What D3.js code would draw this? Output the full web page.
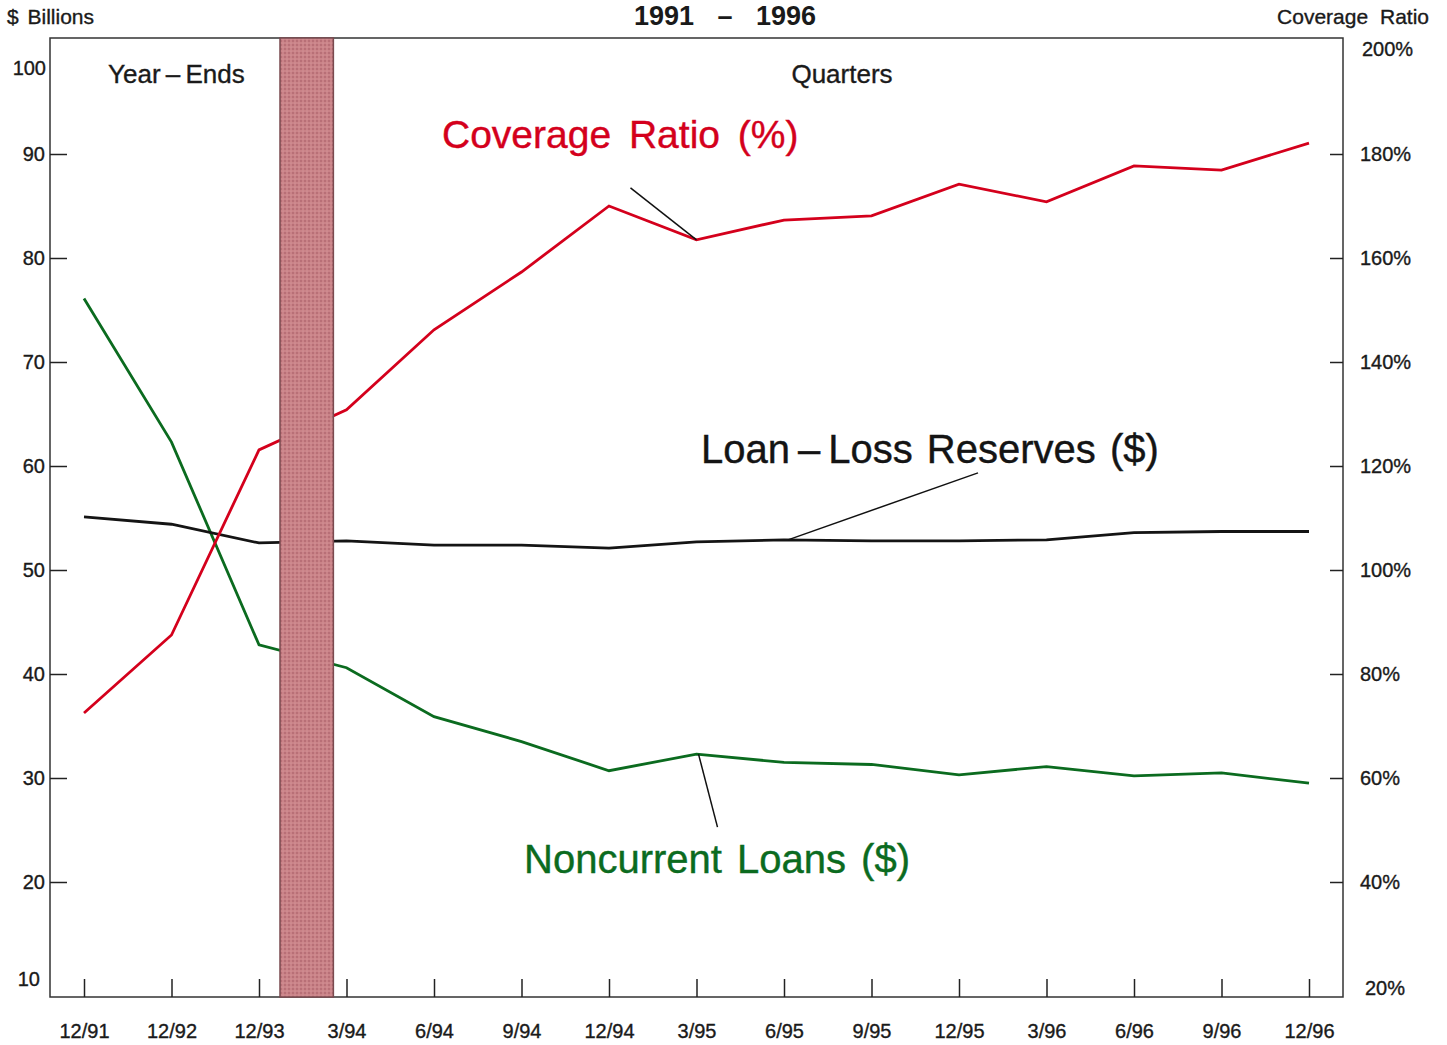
<!DOCTYPE html>
<html>
<head>
    <meta charset="utf-8">
    <style>
        body {
            margin: 0;
            background: #fff;
            font-family: "Liberation Sans", Arial, sans-serif;
        }

        svg {
            display: block;
        }

        .tick text {
            font-size: 20px;
            fill: #1a1a1a;
            stroke: #1a1a1a;
            stroke-width: 0.35;
        }

        .tick line {
            stroke: #222;
            stroke-width: 1.5;
        }

        .domain {
            display: none;
        }

        .label {
            font-size: 40px;
            stroke-width: 0.4;
        }

        .corner, .head {
            font-size: 20px;
            fill: #1a1a1a;
            stroke: #1a1a1a;
            stroke-width: 0.35;
        }
    </style>
</head>

<body>
    <svg width="1447" height="1045"></svg>
</body>

<script src="https://d3js.org/d3.v7.min.js"></script>

<script>
    let periods = ["12/91", "12/92", "12/93", "3/94", "6/94", "9/94", "12/94", "3/95",
        "6/95", "9/95", "12/95", "3/96", "6/96", "9/96", "12/96"]

    // coverage ratio, percent (right axis)
    let coverage = [72.5, 87.5, 123.1, 130.8, 146.2, 157.3, 170.0, 163.5,
        167.3, 168.1, 174.2, 170.8, 177.7, 176.9, 182.1]

    // loan-loss reserves, $ billions (left axis)
    let reserves = [55.1, 54.4, 52.6, 52.8, 52.4, 52.4, 52.1, 52.7,
        52.9, 52.8, 52.8, 52.9, 53.6, 53.7, 53.7]

    // noncurrent loans, $ billions (left axis)
    let noncurrent = [76.1, 62.3, 42.8, 40.6, 35.9, 33.5, 30.7, 32.3,
        31.5, 31.3, 30.3, 31.1, 30.2, 30.5, 29.5]

    let leftTicks = [20, 30, 40, 50, 60, 70, 80, 90]
    let rightTicks = [40, 60, 80, 100, 120, 140, 160, 180]

    // shaded break between year-ends and quarters, in period index units
    let breakBand = [2.24, 2.85]

    let box = { left: 50, right: 1343, top: 38, bottom: 997 }

    let svg = d3.select("svg")

    let x = d3.scalePoint()
        .domain(periods)
        .range([84, 1309])

    let xi = d3.scaleLinear()
        .domain([0, periods.length - 1])
        .range([84, 1309])

    let yLeft = d3.scaleLinear()
        .domain([10, 100])
        .range([986, 50])

    let yRight = d3.scaleLinear()
        .domain([20, 200])
        .range([986, 50])

    // texture for the shaded band
    let defs = svg.append("defs")
    let pat = defs.append("pattern")
        .attr("id", "speckle")
        .attr("width", 4)
        .attr("height", 4)
        .attr("patternUnits", "userSpaceOnUse")
    pat.append("rect").attr("width", 4).attr("height", 4).attr("fill", "#ca8388")
    pat.append("circle").attr("cx", 1).attr("cy", 1).attr("r", 0.9).attr("fill", "#b0666f")
    pat.append("circle").attr("cx", 3).attr("cy", 3).attr("r", 0.6).attr("fill", "#dba2a5")

    // frame
    svg.append("rect")
        .attr("x", box.left)
        .attr("y", box.top)
        .attr("width", box.right - box.left)
        .attr("height", box.bottom - box.top)
        .attr("fill", "none")
        .attr("stroke", "#333")
        .attr("stroke-width", 1.5)

    // axes
    svg.append("g")
        .attr("class", "y left")
        .attr("transform", `translate(${box.left},0)`)
        .call(d3.axisRight(yLeft).tickValues(leftTicks).tickSize(17))
        .call(g => g.selectAll(".tick text").attr("text-anchor", "end").attr("x", -5))

    svg.append("g")
        .attr("class", "y right")
        .attr("transform", `translate(${box.right},0)`)
        .call(d3.axisLeft(yRight).tickValues(rightTicks).tickSize(13)
            .tickFormat(d => d + "%"))
        .call(g => g.selectAll(".tick text").attr("text-anchor", "start").attr("x", 17))

    svg.append("g")
        .attr("class", "x")
        .attr("transform", `translate(0,${box.bottom})`)
        .call(d3.axisTop(x).tickSize(18))
        .call(g => g.selectAll(".tick text").attr("y", 41).attr("dy", 0))

    // untickmarked end labels
    svg.append("text").attr("class", "corner")
        .attr("x", box.left - 4).attr("y", yLeft(100) + 25)
        .attr("text-anchor", "end").text("100")
    svg.append("text").attr("class", "corner")
        .attr("x", box.left - 10).attr("y", yLeft(10))
        .attr("text-anchor", "end").text("10")
    svg.append("text").attr("class", "corner")
        .attr("x", box.right + 19).attr("y", yRight(200) + 6).text("200%")
    svg.append("text").attr("class", "corner")
        .attr("x", box.right + 22).attr("y", yRight(20) + 9).text("20%")

    // lines
    let lineL = d3.line()
        .x((d, i) => x(periods[i]))
        .y(d => yLeft(d))

    let lineR = d3.line()
        .x((d, i) => x(periods[i]))
        .y(d => yRight(d))

    svg.append("path")
        .attr("d", lineL(noncurrent))
        .attr("fill", "none")
        .attr("stroke", "#0b6b1f")
        .attr("stroke-width", 2.8)

    svg.append("path")
        .attr("d", lineL(reserves))
        .attr("fill", "none")
        .attr("stroke", "#141414")
        .attr("stroke-width", 2.8)

    svg.append("path")
        .attr("d", lineR(coverage))
        .attr("fill", "none")
        .attr("stroke", "#d4001c")
        .attr("stroke-width", 2.8)

    // shaded break band over the lines
    svg.append("rect")
        .attr("x", xi(breakBand[0]))
        .attr("y", box.top)
        .attr("width", xi(breakBand[1]) - xi(breakBand[0]))
        .attr("height", box.bottom - box.top)
        .attr("fill", "url(#speckle)")
        .attr("stroke", "#7a4a4f")
        .attr("stroke-width", 1.5)

    // leader lines, anchored on data points
    let leaders = [
        { px: x("3/95"), py: yRight(coverage[7]), dx: -66, dy: -52 },
        { px: x("6/95") + 4, py: yLeft(reserves[8]), dx: 190, dy: -67 },
        { px: x("3/95") + 2, py: yLeft(noncurrent[7]), dx: 19, dy: 73 }
    ]

    svg.append("g")
        .selectAll("line")
        .data(leaders)
        .join("line")
        .attr("x1", d => d.px)
        .attr("y1", d => d.py)
        .attr("x2", d => d.px + d.dx)
        .attr("y2", d => d.py + d.dy)
        .attr("stroke", "#111")
        .attr("stroke-width", 1.5)

    // series labels
    svg.append("text").attr("class", "label")
        .attr("x", 442).attr("y", 148)
        .attr("fill", "#d4001c").attr("stroke", "#d4001c")
        .style("font-size", "39px")
        .style("word-spacing", "7px")
        .text("Coverage Ratio (%)")

    svg.append("text").attr("class", "label")
        .attr("x", 701).attr("y", 463)
        .attr("fill", "#141414").attr("stroke", "#141414")
        .style("word-spacing", "3px")
        .text("Loan\u2009\u2013\u2009Loss Reserves ($)")

    svg.append("text").attr("class", "label")
        .attr("x", 524).attr("y", 873)
        .attr("fill", "#0b6b1f").attr("stroke", "#0b6b1f")
        .style("word-spacing", "4px")
        .text("Noncurrent Loans ($)")

    // section labels
    svg.append("text").attr("class", "head")
        .attr("x", 108).attr("y", 83)
        .style("font-size", "26px")
        .text("Year\u2009\u2013\u2009Ends")

    svg.append("text").attr("class", "head")
        .attr("x", 842).attr("y", 83)
        .attr("text-anchor", "middle")
        .style("font-size", "26px")
        .text("Quarters")

    // header
    svg.append("text").attr("class", "head")
        .attr("x", 7).attr("y", 24)
        .style("font-size", "21px")
        .style("word-spacing", "3px")
        .text("$ Billions")

    svg.append("text")
        .attr("x", 725).attr("y", 25)
        .attr("text-anchor", "middle")
        .style("font-size", "27px")
        .style("font-weight", "bold")
        .style("word-spacing", "16px")
        .attr("fill", "#1a1a1a")
        .text("1991 – 1996")

    svg.append("text").attr("class", "head")
        .attr("x", 1429).attr("y", 24)
        .attr("text-anchor", "end")
        .style("font-size", "21px")
        .style("word-spacing", "6px")
        .text("Coverage Ratio")
</script>
</html>
